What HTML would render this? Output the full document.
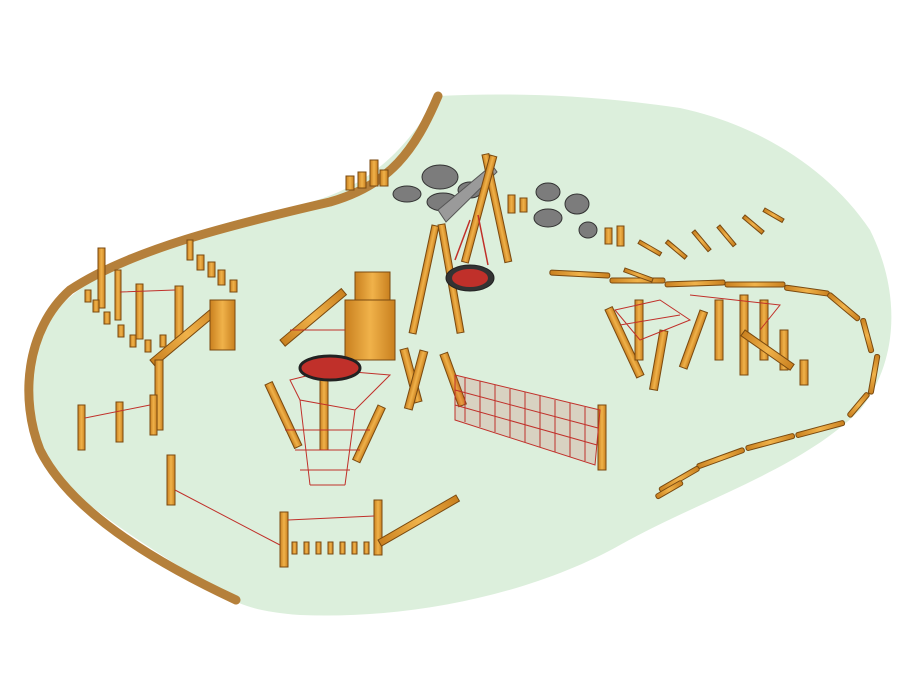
<!DOCTYPE html>
<html><head><meta charset="utf-8"><style>html,body{margin:0;padding:0;background:#fff}svg{display:block}</style></head>
<body>
<svg width="900" height="700" viewBox="0 0 900 700" xmlns="http://www.w3.org/2000/svg">
<defs>
<linearGradient id="w" x1="0" x2="1"><stop offset="0" stop-color="#c9801f"/><stop offset="0.5" stop-color="#f0b24a"/><stop offset="1" stop-color="#c9801f"/></linearGradient>
</defs>
<!-- ground -->
<path d="M438,96 C520,92 600,96 680,108 C760,125 830,170 870,230 C900,290 900,360 860,410 C800,470 700,500 620,545 C540,590 420,620 300,615 C260,612 240,605 230,598 C170,560 100,520 50,470 C20,430 20,370 40,330 C80,270 180,230 300,205 C360,190 400,160 438,96 Z" fill="#dcefdc"/>
<path d="M438,96 C415,150 390,185 330,202 C230,225 130,250 70,290 C25,330 20,400 40,450 C70,510 150,560 236,600" fill="none" stroke="#b5803b" stroke-width="9" stroke-linecap="round"/>
<g stroke="#7a4a10" stroke-width="1" fill="url(#w)">
<!-- outer log border right -->
<g>
<rect x="550" y="270" width="60" height="5" rx="2" transform="rotate(3 550 270)"/>
<rect x="610" y="278" width="55" height="5" rx="2"/>
<rect x="665" y="282" width="60" height="5" rx="2" transform="rotate(-2 665 282)"/>
<rect x="725" y="282" width="60" height="5" rx="2"/>
<rect x="785" y="285" width="45" height="5" rx="2" transform="rotate(8 785 285)"/>
<rect x="830" y="292" width="40" height="5" rx="2" transform="rotate(40 830 292)"/>
<rect x="865" y="318" width="35" height="5" rx="2" transform="rotate(75 865 318)"/>
<rect x="880" y="355" width="40" height="5" rx="2" transform="rotate(100 880 355)"/>
<rect x="870" y="395" width="30" height="5" rx="2" transform="rotate(130 870 395)"/>
<rect x="845" y="425" width="50" height="5" rx="2" transform="rotate(165 845 425)"/>
<rect x="795" y="438" width="50" height="5" rx="2" transform="rotate(165 795 438)"/>
<rect x="745" y="452" width="50" height="5" rx="2" transform="rotate(160 745 452)"/>
<rect x="700" y="470" width="45" height="5" rx="2" transform="rotate(150 700 470)"/>
<rect x="655" y="495" width="30" height="5" rx="2" transform="rotate(-30 655 495)"/>
</g>
<!-- short logs row -->
<rect x="640" y="240" width="25" height="4" transform="rotate(30 640 240)"/>
<rect x="668" y="240" width="25" height="4" transform="rotate(40 668 240)"/>
<rect x="695" y="230" width="25" height="4" transform="rotate(50 695 230)"/>
<rect x="720" y="225" width="25" height="4" transform="rotate(50 720 225)"/>
<rect x="745" y="215" width="25" height="4" transform="rotate(40 745 215)"/>
<rect x="765" y="208" width="22" height="4" transform="rotate(30 765 208)"/>
<rect x="625" y="268" width="30" height="4" transform="rotate(20 625 268)"/>
</g>
<!-- rocks -->
<g fill="#7c7c7c" stroke="#333" stroke-width="1">
<ellipse cx="440" cy="177" rx="18" ry="12"/><ellipse cx="407" cy="194" rx="14" ry="8"/>
<ellipse cx="443" cy="202" rx="16" ry="9"/><ellipse cx="470" cy="190" rx="12" ry="8"/>
<ellipse cx="548" cy="192" rx="12" ry="9"/><ellipse cx="577" cy="204" rx="12" ry="10"/>
<ellipse cx="548" cy="218" rx="14" ry="9"/><ellipse cx="588" cy="230" rx="9" ry="8"/>
</g>
<!-- swing -->
<g stroke="#555" fill="#9a9a9a"><polygon points="438,210 492,165 497,172 446,222"/></g>
<g stroke="#7a4a10" fill="url(#w)">
<rect x="482" y="155" width="7" height="110" transform="rotate(-12 482 155)"/>
<rect x="490" y="155" width="7" height="110" transform="rotate(15 490 155)"/>
<rect x="432" y="225" width="7" height="110" transform="rotate(12 432 225)"/>
<rect x="438" y="225" width="7" height="110" transform="rotate(-10 438 225)"/>
</g>
<path d="M455,260 L470,220 M488,265 L478,215" stroke="#c0302a" stroke-width="1.5"/>
<ellipse cx="470" cy="278" rx="24" ry="13" fill="#333" stroke="#222"/><ellipse cx="470" cy="278" rx="18" ry="9" fill="#c0302a"/>
<!-- posts various -->
<g stroke="#7a4a10" fill="url(#w)">
<rect x="346" y="176" width="8" height="14"/><rect x="358" y="172" width="8" height="16"/><rect x="370" y="160" width="8" height="26"/><rect x="380" y="170" width="8" height="16"/>
<rect x="508" y="195" width="7" height="18"/><rect x="520" y="198" width="7" height="14"/><rect x="605" y="228" width="7" height="16"/><rect x="617" y="226" width="7" height="20"/>
<!-- left cluster -->
<rect x="98" y="248" width="7" height="60"/><rect x="115" y="270" width="6" height="50"/><rect x="136" y="284" width="7" height="55"/><rect x="175" y="286" width="8" height="55"/>
<rect x="187" y="240" width="6" height="20"/><rect x="197" y="255" width="7" height="15"/><rect x="208" y="262" width="7" height="15"/><rect x="218" y="270" width="7" height="15"/><rect x="230" y="280" width="7" height="12"/>
<rect x="85" y="290" width="6" height="12"/><rect x="93" y="300" width="6" height="12"/><rect x="104" y="312" width="6" height="12"/><rect x="118" y="325" width="6" height="12"/><rect x="130" y="335" width="6" height="12"/><rect x="145" y="340" width="6" height="12"/><rect x="160" y="335" width="6" height="12"/>
<rect x="150" y="360" width="90" height="8" transform="rotate(-40 150 360)"/>
<rect x="210" y="300" width="25" height="50"/><rect x="155" y="360" width="8" height="70"/>
<rect x="78" y="405" width="7" height="45"/><rect x="116" y="402" width="7" height="40"/><rect x="150" y="395" width="7" height="40"/>
<!-- tower -->
<rect x="355" y="272" width="35" height="40"/><rect x="345" y="300" width="50" height="60"/>
<rect x="280" y="340" width="80" height="8" transform="rotate(-40 280 340)"/>
<rect x="265" y="385" width="8" height="70" transform="rotate(-25 265 385)"/>
<rect x="320" y="380" width="8" height="70"/>
<rect x="378" y="405" width="8" height="60" transform="rotate(25 378 405)"/>
<rect x="400" y="350" width="8" height="55" transform="rotate(-15 400 350)"/>
<rect x="420" y="350" width="8" height="60" transform="rotate(15 420 350)"/>
<rect x="440" y="355" width="8" height="55" transform="rotate(-20 440 355)"/>
<rect x="598" y="405" width="8" height="65"/>
<!-- bottom fence -->
<rect x="167" y="455" width="8" height="50"/><rect x="280" y="512" width="8" height="55"/><rect x="374" y="500" width="8" height="55"/>
<rect x="378" y="540" width="90" height="7" transform="rotate(-30 378 540)"/>
<rect x="292" y="542" width="5" height="12"/><rect x="304" y="542" width="5" height="12"/><rect x="316" y="542" width="5" height="12"/><rect x="328" y="542" width="5" height="12"/><rect x="340" y="542" width="5" height="12"/><rect x="352" y="542" width="5" height="12"/><rect x="364" y="542" width="5" height="12"/>
<!-- right climbing -->
<rect x="605" y="310" width="8" height="75" transform="rotate(-25 605 310)"/><rect x="635" y="300" width="8" height="60"/>
<rect x="660" y="330" width="8" height="60" transform="rotate(10 660 330)"/><rect x="700" y="310" width="8" height="60" transform="rotate(20 700 310)"/>
<rect x="715" y="300" width="8" height="60"/><rect x="740" y="295" width="8" height="80"/><rect x="760" y="300" width="8" height="60"/>
<rect x="780" y="330" width="8" height="40"/><rect x="800" y="360" width="8" height="25"/>
<rect x="745" y="330" width="60" height="7" transform="rotate(35 745 330)"/>
</g>
<!-- nets -->
<g stroke="#c0302a" stroke-width="1" fill="none">
<path d="M120,292 L175,290 M85,418 L150,405 M175,490 L280,545 M288,520 L374,516 M290,330 L345,330"/>
<path d="M290,380 L330,370 L390,375 L355,410 L300,400 Z M285,430 L370,430 M295,450 L360,450 M300,470 L350,470 M310,485 L345,485 M300,400 L310,485 M355,410 L345,485"/>
<path d="M455,375 L600,410 L595,465 L455,420 Z" fill="rgba(192,48,42,0.15)"/>
<path d="M465,378 L465,422 M480,381 L480,427 M495,385 L495,432 M510,389 L510,437 M525,392 L525,442 M540,396 L540,447 M555,400 L555,452 M570,403 L570,457 M585,407 L585,461 M455,390 L598,428 M455,405 L597,445"/>
<path d="M615,310 L660,300 L690,320 L640,340 Z M690,295 L780,305 L760,330 M620,325 L680,315"/>
</g>
<ellipse cx="330" cy="368" rx="30" ry="12" fill="#c0302a" stroke="#222" stroke-width="3"/>
</svg>
</body></html>
